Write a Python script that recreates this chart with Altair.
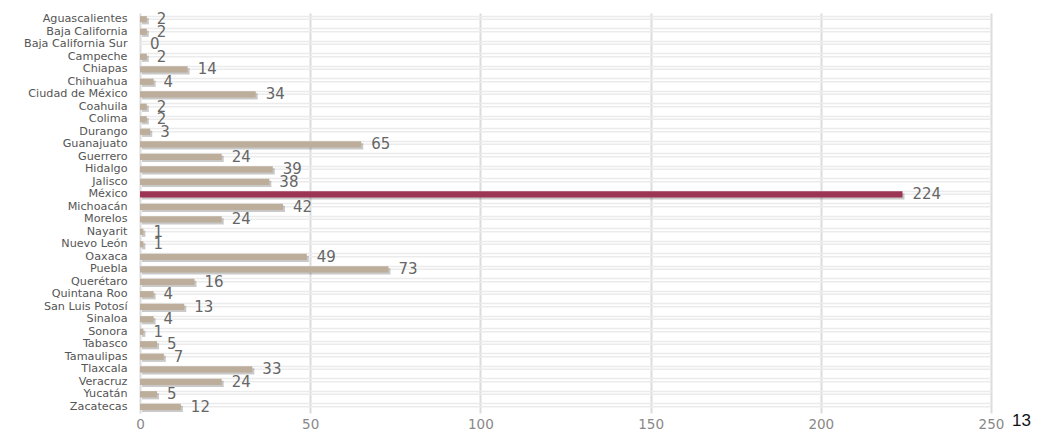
import altair as alt
import pandas as pd

states = ["Aguascalientes", "Baja California", "Baja California Sur", "Campeche", "Chiapas",
          "Chihuahua", "Ciudad de México", "Coahuila", "Colima", "Durango", "Guanajuato",
          "Guerrero", "Hidalgo", "Jalisco", "México", "Michoacán", "Morelos", "Nayarit",
          "Nuevo León", "Oaxaca", "Puebla", "Querétaro", "Quintana Roo", "San Luis Potosí",
          "Sinaloa", "Sonora", "Tabasco", "Tamaulipas", "Tlaxcala", "Veracruz", "Yucatán",
          "Zacatecas"]
values = [2, 2, 0, 2, 14, 4, 34, 2, 2, 3, 65, 24, 39, 38, 224, 42, 24, 1, 1, 49, 73, 16,
          4, 13, 4, 1, 5, 7, 33, 24, 5, 12]
highlight = "México"
x_ticks = [0, 50, 100, 150, 200, 250]
page_number = "13"

df = pd.DataFrame({"estado": states, "valor": values})
df["color"] = ["#9b3553" if s == highlight else "#bcae9a" for s in states]

W, H = 851, 400
FONT = "DejaVu Sans"

x_enc = alt.X("valor:Q", scale=alt.Scale(domain=[0, 250], nice=False),
              axis=alt.Axis(values=x_ticks, title=None, domain=False, ticks=False,
                            labelColor="#888888", labelFontSize=13.5, labelFont=FONT,
                            labelPadding=4, labelFlush=False,
                            gridColor="#dcdcdc", gridWidth=2))
y_scale = alt.Scale(paddingInner=0.5, paddingOuter=0.25)
y_enc = alt.Y("estado:N", sort=states, scale=y_scale,
              axis=alt.Axis(title=None, domain=False, ticks=False, labelColor="#555555",
                            labelFontSize=11.2, labelFont=FONT, labelPadding=13,
                            minExtent=132, maxExtent=132, grid=True, bandPosition=0,
                            gridColor="#ebebeb", gridWidth=1.5))

base = alt.Chart(df)

midgrid = base.mark_rule(color="#ebebeb", strokeWidth=1.5).encode(
    y=alt.Y("estado:N", sort=states, scale=y_scale), x=alt.value(0), x2=alt.value(W))
shadow = base.mark_bar(color="#4d4d4d", opacity=0.3, xOffset=2, yOffset=2).encode(
    x=x_enc, y=y_enc)
bars = base.mark_bar().encode(x=x_enc, y=y_enc, color=alt.Color("color:N", scale=None))
labels = base.mark_text(align="left", baseline="middle", dx=10, fontSize=15, font=FONT,
                        color="#666666").encode(x="valor:Q", y=alt.Y("estado:N", sort=states),
                                                text="valor:Q")
page = alt.Chart(pd.DataFrame({"t": [page_number]})).mark_text(
    align="left", baseline="middle", fontSize=17, font="Liberation Sans", color="#111111"
).encode(x=alt.value(872), y=alt.value(408), text="t:N")

chart = alt.layer(midgrid, shadow, bars, labels, page).properties(
    width=W, height=H, padding={"left": 0, "top": 4, "right": 5, "bottom": 2}
).configure_view(stroke=None).configure_axisX(grid=True)

chart.save("out.html", embed_options={"renderer": "svg", "actions": False})
